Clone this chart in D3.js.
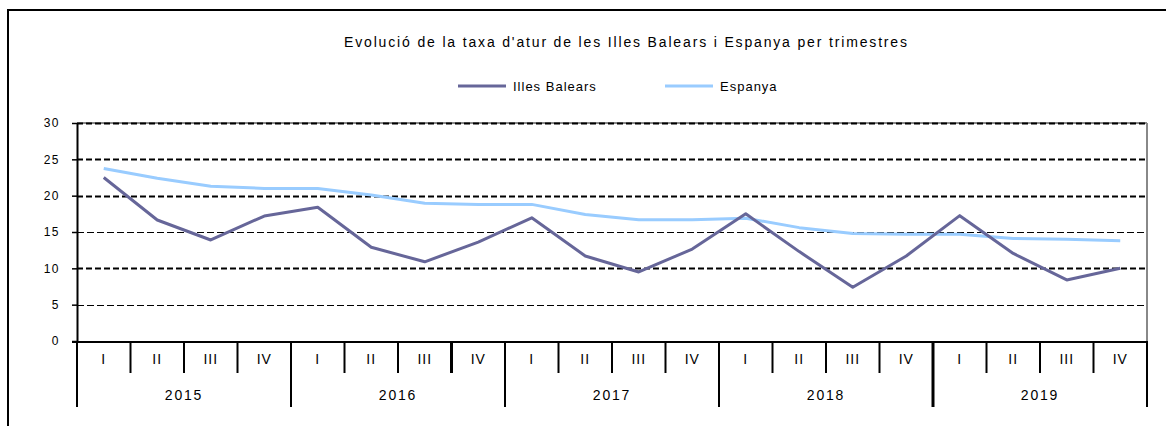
<!DOCTYPE html>
<html>
<head>
<meta charset="utf-8">
<script src="https://cdn.jsdelivr.net/npm/d3@7"></script>
<style>
  html, body { margin: 0; padding: 0; background: #fff; }
  svg { display: block; }
  text { font-family: "Liberation Sans", Arial, sans-serif; fill: #000; }
</style>
</head>
<body>
<svg id="chart" width="1166" height="426"></svg>
<script>
const title = "Evolució de la taxa d'atur de les Illes Balears i Espanya per trimestres";
const years = ["2015", "2016", "2017", "2018", "2019"];
const quarters = ["I", "II", "III", "IV"];
const seriesNames = ["Illes Balears", "Espanya"];
const balears = [22.5, 16.65, 13.9, 17.2, 18.4, 12.9, 10.9, 13.6, 16.95, 11.7, 9.5, 12.65, 17.5, 12.3, 7.4, 11.7, 17.25, 12.05, 8.4, 10.0];
const espanya = [23.75, 22.4, 21.3, 21.0, 21.0, 20.1, 18.95, 18.8, 18.8, 17.4, 16.7, 16.7, 16.9, 15.6, 14.8, 14.7, 14.7, 14.1, 14.0, 13.8];
const yTicks = [0, 5, 10, 15, 20, 25, 30];

const categories = [];
years.forEach(y => quarters.forEach(q => categories.push(y + "-" + q)));

const svg = d3.select("#chart");
const L = 77, R = 1147, T = 123, B = 341;

// outer frame (extends beyond the visible window on right and bottom)
svg.append("rect").attr("x", 8).attr("y", 10).attr("width", 1200).attr("height", 500)
  .attr("fill", "none").attr("stroke", "#000").attr("stroke-width", 2);

const x = d3.scaleBand().domain(categories).range([L, R]).paddingInner(0).paddingOuter(0);
const y = d3.scaleLinear().domain([0, 30]).range([B, T]);

// title
svg.append("text").attr("x", 344).attr("y", 47).attr("font-size", 14)
  .attr("textLength", 563).attr("lengthAdjust", "spacing").text(title);

// legend
const legendColors = ["#666699", "#99ccff"];
const legendX = [458, 665];
seriesNames.forEach((n, i) => {
  svg.append("line").attr("x1", legendX[i]).attr("x2", legendX[i] + 48)
    .attr("y1", 86).attr("y2", 86).attr("stroke", legendColors[i]).attr("stroke-width", 3);
  svg.append("text").attr("x", legendX[i] + 55).attr("y", 91).attr("font-size", 13)
    .attr("letter-spacing", 1).text(n);
});

// plot border (top & right, gray)
svg.append("line").attr("x1", L).attr("x2", R).attr("y1", T).attr("y2", T)
  .attr("stroke", "#888").attr("stroke-width", 2);
svg.append("line").attr("x1", R).attr("x2", R).attr("y1", T).attr("y2", B)
  .attr("stroke", "#888").attr("stroke-width", 2);

// gridlines
yTicks.filter(v => v > 0).forEach(v => {
  const thick = (v === 25 || v === 20 || v === 10 || v === 30);
  svg.append("line").attr("x1", L).attr("x2", R).attr("y1", Math.round(y(v)) + 0.5).attr("y2", Math.round(y(v)) + 0.5)
    .attr("stroke", "#000").attr("stroke-width", thick ? 2 : 1)
    .attr("stroke-dasharray", thick ? "6,3" : "7,3");
});

// y axis
const yAxis = d3.axisLeft(y).tickValues(yTicks).tickSize(5).tickPadding(12).tickSizeOuter(0);
const gy = svg.append("g").attr("transform", `translate(${L},0)`).call(yAxis);
gy.select(".domain").attr("stroke", "#000").attr("stroke-width", 2);
gy.selectAll(".tick line").attr("stroke", "#000").attr("stroke-width", 1.5);
gy.selectAll(".tick text").attr("font-size", 12).attr("letter-spacing", 1.5)
  .attr("font-family", "'Liberation Sans', Arial, sans-serif").attr("fill", "#000");

// x axis baseline
svg.append("line").attr("x1", L - 5).attr("x2", R).attr("y1", B + 1).attr("y2", B + 1)
  .attr("stroke", "#000").attr("stroke-width", 2);

// category separators
const thickSep = [7, 16];
for (let i = 0; i <= categories.length; i++) {
  const xx = i < categories.length ? x(categories[i]) : R;
  const isYear = i % 4 === 0;
  svg.append("line").attr("x1", xx).attr("x2", xx).attr("y1", B).attr("y2", isYear ? 407 : 373)
    .attr("stroke", "#000").attr("stroke-width", thickSep.includes(i) ? 3 : 2);
}

// quarter labels
svg.append("g").selectAll("text").data(categories).join("text")
  .attr("x", d => x(d) + x.bandwidth() / 2).attr("y", 364)
  .attr("text-anchor", "middle").attr("font-size", 14).attr("letter-spacing", 1)
  .text(d => d.split("-")[1]);

// year labels
svg.append("g").selectAll("text").data(years).join("text")
  .attr("x", d => (x(d + "-I") + x(d + "-IV") + x.bandwidth()) / 2).attr("y", 400)
  .attr("text-anchor", "middle").attr("font-size", 14).attr("letter-spacing", 1.8)
  .text(d => d);

// lines
const line = d3.line().x((d, i) => x(categories[i]) + x.bandwidth() / 2).y(d => y(d));
svg.append("path").datum(espanya).attr("d", line).attr("fill", "none")
  .attr("stroke", "#99ccff").attr("stroke-width", 3).attr("stroke-linejoin", "round");
svg.append("path").datum(balears).attr("d", line).attr("fill", "none")
  .attr("stroke", "#666699").attr("stroke-width", 3).attr("stroke-linejoin", "round");
</script>
</body>
</html>
